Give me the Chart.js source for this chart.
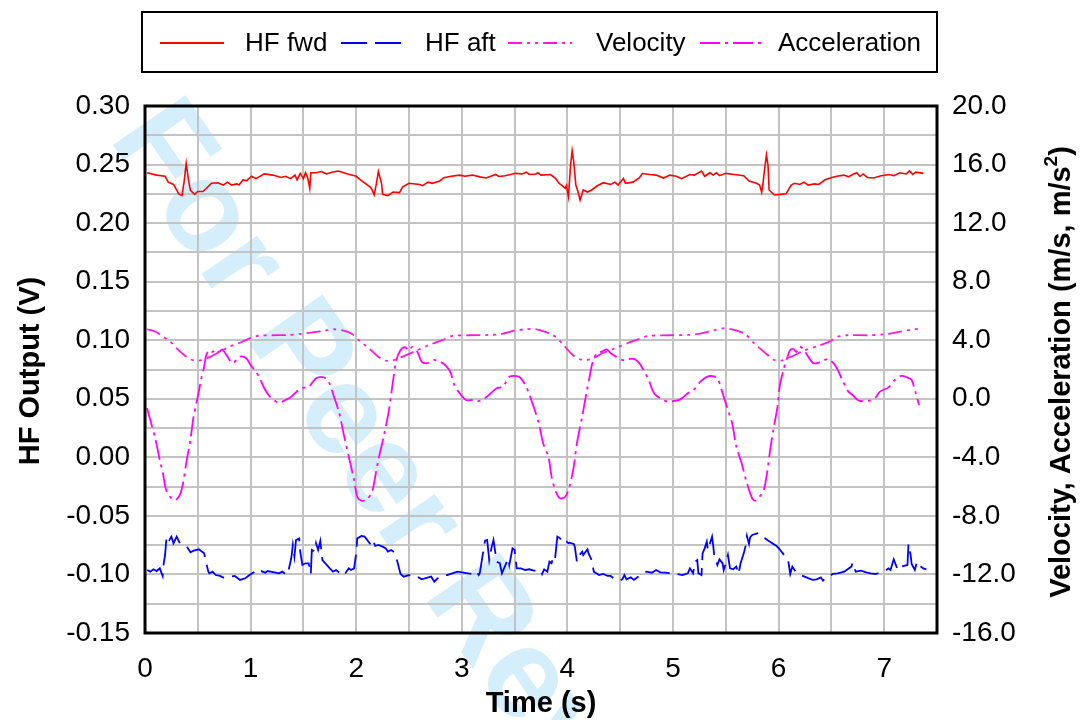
<!DOCTYPE html>
<html>
<head>
<meta charset="utf-8">
<script src="https://cdn.jsdelivr.net/npm/chart.js@4.4.1/dist/chart.umd.min.js"></script>
<style>
  body { margin: 0; background: #fff; }
  canvas { display: block; background: #fff; }
</style>
</head>
<body>
<canvas id="chart" width="1080" height="720"></canvas>
<script>
// HF fwd (left axis, V)
const fwdT = [0.02,0.11,0.19,0.22,0.27,0.32,0.35,0.37,0.39,0.41,0.43,0.47,0.50,0.55,0.63,0.69,0.74,0.78,0.82,0.87,0.89,0.93,0.96,1.01,1.05,1.13,1.21,1.29,1.33,1.38,1.42,1.44,1.47,1.50,1.52,1.54,1.56,1.57,1.62,1.67,1.72,1.77,1.83,1.92,2.00,2.04,2.13,2.15,2.17,2.19,2.21,2.24,2.25,2.30,2.35,2.41,2.44,2.50,2.60,2.63,2.68,2.72,2.79,2.83,2.90,2.98,3.03,3.10,3.17,3.23,3.32,3.35,3.41,3.51,3.57,3.61,3.64,3.70,
  3.72,3.75,3.84,3.89,3.92,3.95,3.98,3.99,4.01,4.03,4.045,4.06,4.08,4.10,4.12,4.15,4.19,4.23,4.28,4.34,4.41,4.45,4.48,4.53,4.55,4.62,4.68,4.71,4.78,4.84,4.91,4.97,5.03,5.08,5.16,5.20,5.27,5.30,5.35,5.38,5.41,5.44,5.50,5.58,5.67,5.72,5.79,5.82,5.84,5.85,5.87,5.885,5.90,5.91,5.96,6.02,6.07,6.12,6.15,6.20,6.24,6.28,6.34,6.38,6.44,6.49,6.55,6.62,6.66,6.70,6.74,6.77,6.80,6.84,6.90,6.97,7.05,7.09,7.15,7.21,7.24,7.27,7.30,7.37];
const fwdV = [0.243,0.241,0.240,0.235,0.233,0.225,0.2235,0.235,0.251,0.238,0.228,0.2246,0.227,0.227,0.234,0.2345,0.2325,0.235,0.2325,0.2335,0.2325,0.237,0.236,0.240,0.238,0.242,0.241,0.239,0.240,0.238,0.241,0.237,0.2425,0.238,0.243,0.239,0.2297,0.243,0.243,0.244,0.242,0.2435,0.2445,0.242,0.240,0.237,0.231,0.2285,0.224,0.233,0.244,0.234,0.2246,0.2235,0.2265,0.226,0.231,0.234,0.233,0.232,0.235,0.234,0.236,0.2388,0.240,0.241,0.240,0.241,0.2395,0.2385,0.2415,0.2398,0.2405,0.2425,0.242,0.2435,0.2415,0.242,
  0.243,0.241,0.2415,0.238,0.234,0.232,0.2297,0.232,0.2226,0.2496,0.2618,0.2524,0.2325,0.227,0.2197,0.2283,0.2265,0.2283,0.2317,0.2345,0.233,0.235,0.2325,0.238,0.234,0.235,0.2385,0.2423,0.2415,0.241,0.2385,0.241,0.240,0.238,0.2415,0.241,0.2445,0.240,0.243,0.241,0.243,0.2405,0.2425,0.2415,0.2405,0.236,0.234,0.2325,0.2264,0.2325,0.248,0.2582,0.249,0.2283,0.224,0.2245,0.225,0.2325,0.234,0.233,0.235,0.2325,0.2335,0.233,0.237,0.2385,0.240,0.241,0.2395,0.2415,0.243,0.2398,0.242,0.239,0.2385,0.2405,0.2415,0.2405,0.243,0.242,0.2445,0.2415,0.2435,0.2425];

// HF aft (left axis, V)
const aftT = [0.02,0.05,0.08,0.11,0.14,0.167,0.173,0.19,0.205,0.23,0.25,0.27,0.30,0.33,0.37,0.40,0.43,0.46,0.51,0.56,0.58,0.60,0.61,0.64,0.67,0.71,0.74,0.85,0.90,0.95,0.99,1.04,1.07,1.10,1.14,1.16,1.27,1.30,1.34,1.36,1.385,1.40,1.415,1.43,1.46,1.47,1.49,1.52,1.55,1.57,1.58,1.61,1.62,1.64,1.66,1.68,1.75,1.78,1.81,1.84,1.87,1.90,1.93,1.95,1.98,2.00,2.01,2.05,2.08,2.14,2.16,2.18,2.21,2.25,2.28,2.30,2.33,2.36,2.39,2.42,2.45,2.50,2.54,2.59,2.62,2.71,2.74,2.77,2.82,2.86,2.91,2.96,3.00,3.10,3.14,3.16,3.17,3.19,3.20,3.22,3.24,3.26,3.28,3.30,3.33,3.36,3.38,3.42,3.44,3.45,3.48,3.50,3.52,3.56,3.60,3.64,3.68,
  3.75,3.76,3.78,3.81,3.83,3.85,3.86,3.88,3.895,3.905,3.93,3.95,3.96,3.99,4.01,4.02,4.06,4.07,4.09,4.10,4.14,4.15,4.19,4.20,4.23,4.25,4.30,4.34,4.38,4.41,4.45,4.49,4.52,4.54,4.56,4.60,4.63,4.67,4.72,4.75,4.80,4.84,4.88,4.93,5.04,5.09,5.14,5.16,5.19,5.21,5.23,5.24,5.27,5.28,5.30,5.32,5.33,5.35,5.37,5.38,5.39,5.42,5.44,5.47,5.48,5.50,5.52,5.54,5.57,5.60,5.62,5.64,5.67,5.69,5.70,5.72,5.73,5.75,5.80,5.83,5.87,5.90,5.94,5.98,6.01,6.04,6.09,6.11,6.13,6.16,6.21,6.32,6.36,6.40,6.42,6.45,6.48,6.51,6.56,6.62,6.69,6.70,6.73,6.78,6.83,6.87,6.92,7.01,7.04,7.06,7.09,7.11,7.13,7.16,7.22,7.23,7.25,7.26,7.29,7.31,7.34,7.37,7.40];
const aftV = [-0.0962,-0.0976,-0.0956,-0.0971,-0.0948,-0.1013,-0.0933,-0.0834,-0.0672,-0.0706,-0.0677,-0.0734,-0.0677,-0.0734,-0.0748,-0.0768,-0.0811,-0.0797,-0.0785,-0.0820,-0.0905,-0.0976,-0.0990,-0.0976,-0.1005,-0.1013,-0.1027,-0.1013,-0.1047,-0.1033,-0.1005,-0.0976,-0.0990,-0.0971,-0.0985,-0.0971,-0.0990,-0.0976,-0.1005,-0.0962,-0.0862,-0.0748,-0.0848,-0.0706,-0.0692,-0.0805,-0.0919,-0.0905,-0.0905,-0.0996,-0.0791,-0.0805,-0.0734,-0.0791,-0.0714,-0.0877,-0.0948,-0.0976,-0.0962,-0.0985,-0.0962,-0.0985,-0.0948,-0.0962,-0.0948,-0.0820,-0.0692,-0.0672,-0.0677,-0.0748,-0.0711,-0.0757,-0.0748,-0.0763,-0.0777,-0.0805,-0.0791,-0.0811,-0.0891,-0.0996,-0.1019,-0.1005,-0.1025,-0.1025,-0.1042,-0.1019,-0.1062,-0.1033,-0.1019,-0.1005,-0.0990,-0.0976,-0.0982,-0.0996,-0.0976,-0.1005,-0.0990,-0.0877,-0.0820,-0.0711,-0.0706,-0.0877,-0.0777,-0.0706,-0.0891,-0.0905,-0.0990,-0.0905,-0.0862,-0.0919,-0.0777,-0.0791,-0.0948,-0.0948,-0.0962,-0.0956,-0.0968,
  -0.0968,-0.0996,-0.0956,-0.0976,-0.0891,-0.0905,-0.0871,-0.0891,-0.0763,-0.0677,-0.0692,-0.0711,-0.0734,-0.0720,-0.0734,-0.0729,-0.0740,-0.0763,-0.0891,-0.0854,-0.0805,-0.0834,-0.0785,-0.0820,-0.0877,-0.0976,-0.1005,-0.0996,-0.1013,-0.1013,-0.1042,-0.1053,-0.1042,-0.1005,-0.1042,-0.1025,-0.1047,-0.1019,-0.0990,-0.0976,-0.0985,-0.0962,-0.0982,-0.0985,-0.0996,-0.1005,-0.0990,-0.0948,-0.0990,-0.0891,-0.0877,-0.0990,-0.1005,-0.0820,-0.0777,-0.0720,-0.0791,-0.0734,-0.0677,-0.0748,-0.0834,-0.0919,-0.0871,-0.0905,-0.0962,-0.0905,-0.0834,-0.0948,-0.0956,-0.0933,-0.0996,-0.0905,-0.0820,-0.0748,-0.0672,-0.0740,-0.0683,-0.0663,-0.0649,-0.0677,-0.0692,-0.0711,-0.0734,-0.0757,-0.0785,-0.0820,-0.0877,-0.0996,-0.0933,-0.0976,-0.1005,-0.1047,-0.1042,-0.1025,-0.1053,-0.1025,-0.1019,-0.0996,-0.0990,-0.0976,-0.0933,-0.0899,-0.0976,-0.0968,-0.0982,-0.0990,-0.0996,-0.0968,-0.0948,-0.0962,-0.0871,-0.0919,-0.0962,-0.0933,-0.0919,-0.0740,-0.0834,-0.0911,-0.0962,-0.0891,-0.0928,-0.0948,-0.0956];

// Velocity (right axis, m/s)
const velT = [0.02,0.10,0.17,0.24,0.30,0.37,0.43,0.48,0.54,0.62,0.71,0.80,0.90,0.99,1.08,1.20,1.36,1.47,1.57,1.70,1.79,1.88,1.96,2.03,2.12,2.20,2.28,2.36,2.44,2.57,2.69,2.82,2.91,3.07,3.25,3.38,3.50,3.60,3.68,3.73,3.86,3.95,4.05,4.14,4.23,4.33,4.45,4.58,4.67,4.77,4.96,5.15,5.27,5.40,5.49,5.58,5.68,5.77,5.87,5.96,6.02,6.12,6.24,6.37,6.48,6.56,6.65,6.87,7.03,7.15,7.28,7.36];
const velV = [4.75,4.58,4.24,3.9,3.45,2.99,2.7,2.6,2.65,2.88,3.22,3.56,3.83,4.13,4.31,4.34,4.36,4.43,4.52,4.65,4.75,4.65,4.43,3.97,3.45,2.92,2.6,2.65,2.88,3.29,3.67,4.02,4.29,4.34,4.36,4.43,4.65,4.75,4.78,4.7,4.36,3.79,2.99,2.65,2.72,3.11,3.45,3.83,4.06,4.29,4.34,4.36,4.47,4.7,4.82,4.7,4.43,3.79,3.15,2.65,2.6,2.88,3.29,3.6,3.9,4.24,4.34,4.34,4.43,4.58,4.75,4.75];

// Acceleration (right axis, m/s^2)
const accT = [0.02,0.05,0.10,0.14,0.17,0.20,0.25,0.29,0.33,0.36,0.39,0.43,0.46,0.50,0.53,0.56,0.58,0.61,0.64,0.67,0.70,0.73,0.76,0.79,0.83,0.90,0.96,1.00,1.05,1.08,1.13,1.17,1.22,1.27,1.33,1.37,1.42,1.48,1.55,1.62,1.67,1.71,1.74,1.79,1.84,1.88,1.93,1.98,2.01,2.05,2.10,2.15,2.18,2.21,2.26,2.31,2.35,2.38,2.42,2.46,2.50,2.53,2.58,2.62,2.67,2.73,2.79,2.84,2.89,2.93,2.98,3.04,3.11,3.17,3.23,3.33,3.39,3.45,3.52,3.56,3.61,
  3.635,3.68,3.73,3.77,3.82,3.85,3.89,3.93,3.98,4.02,4.06,4.09,4.14,4.18,4.21,4.24,4.28,4.32,4.37,4.41,4.46,4.52,4.56,4.63,4.68,4.72,4.77,4.82,4.88,4.95,5.01,5.07,5.14,5.20,5.26,5.32,5.37,5.42,5.46,5.51,5.56,5.60,5.65,5.70,5.75,5.78,5.82,5.86,5.89,5.92,5.95,5.99,6.01,6.05,6.08,6.11,6.14,6.17,6.20,6.24,6.28,6.33,6.39,6.47,6.52,6.56,6.61,6.66,6.70,6.76,6.86,6.92,6.96,7.04,7.10,7.16,7.22,7.26,7.29,7.33];
const accV = [-0.65,-1.45,-2.81,-4.18,-5.09,-6.23,-6.8,-6.91,-6.57,-5.77,-4.41,-2.81,-1.22,0.14,1.28,2.19,2.99,3.33,3.2,3.38,3.2,3.38,3.11,2.77,2.43,2.88,2.75,2.31,1.85,1.5,0.72,0.26,-0.08,-0.27,-0.08,0.05,0.38,0.72,0.83,1.4,1.5,1.4,1.17,0.14,-0.99,-2.36,-3.96,-5.55,-6.69,-6.96,-6.88,-6.35,-5.32,-4.18,-2.59,-0.77,1.28,2.65,3.33,3.52,3.3,3.55,3.2,2.54,2.43,2.65,2.55,2.31,1.85,0.94,0.38,-0.08,-0.08,-0.15,0.1,0.72,0.83,1.5,1.55,1.4,0.83,
  0.38,-0.54,-1.68,-3.04,-3.96,-5.32,-6.35,-6.8,-6.69,-6.0,-4.63,-3.04,-1.22,0.38,1.5,2.54,3.11,3.2,3.38,3.11,2.88,2.65,2.7,2.72,2.43,1.97,1.28,0.38,0.03,-0.2,-0.15,-0.04,0.38,0.65,1.17,1.5,1.55,1.4,0.6,-0.54,-1.68,-3.27,-4.41,-5.77,-6.8,-6.96,-6.69,-6.23,-5.09,-3.5,-2.13,-0.54,0.83,2.08,2.77,3.33,3.4,3.2,3.56,3.33,2.88,2.43,2.5,2.72,2.43,1.97,1.17,0.49,0.26,-0.13,-0.13,0.1,0.49,0.78,1.28,1.56,1.45,1.28,0.6,-0.42];

const seriesNames = ["HF fwd", "HF aft", "Velocity", "Acceleration"];
const seriesColors = ["#ff0000", "#0000ff", "#ff1ad9", "#ff00ff"];
const seriesDash = [[], [26, 8], [14, 5, 3, 5, 3, 5], [20, 5, 3, 5]];

function toPoints(ts, vs) {
  return ts.map((t, i) => ({ x: t, y: vs[i] }));
}

const FONT = '"Liberation Sans", Arial, sans-serif';

// light blue diagonal watermark behind everything
const watermark = {
  id: "watermark",
  beforeDraw(chart) {
    const c = chart.ctx;
    c.save();
    c.translate(108, 138);
    c.rotate(55.5 * Math.PI / 180);
    c.font = "bold 128px " + FONT;
    c.fillStyle = "#d5eefb";
    c.textBaseline = "alphabetic";
    c.fillText("For Peer Review", 0, 0);
    c.restore();
  }
};

const frameAndText = {
  id: "frameAndText",
  afterDatasetsDraw(chart) {
    const a = chart.chartArea;
    const c = chart.ctx;
    c.save();
    c.strokeStyle = "#000";
    c.lineWidth = 3;
    c.strokeRect(a.left, a.top, a.right - a.left, a.bottom - a.top);
    c.restore();
  },
  afterDraw(chart) {
    const c = chart.ctx;
    c.save();
    c.fillStyle = "#000";

    // legend box
    c.strokeStyle = "#000";
    c.lineWidth = 2;
    c.strokeRect(142, 12, 795, 60);
    const lineX = [160, 341, 508, 700];
    const textX = [245, 425, 596, 778];
    c.font = "26px " + FONT;
    c.textBaseline = "middle";
    c.textAlign = "left";
    for (let i = 0; i < seriesNames.length; i++) {
      c.strokeStyle = seriesColors[i];
      c.lineWidth = 1.8;
      c.setLineDash(seriesDash[i]);
      c.beginPath();
      c.moveTo(lineX[i], 43);
      c.lineTo(lineX[i] + 64, 43);
      c.stroke();
      c.setLineDash([]);
      c.fillText(seriesNames[i], textX[i], 44);
    }

    // axis titles
    c.font = "bold 29px " + FONT;
    c.textAlign = "center";
    c.fillText("Time (s)", 541, 704);

    c.save();
    c.translate(31, 371);
    c.rotate(-Math.PI / 2);
    c.fillText("HF Output (V)", 0, 0);
    c.restore();

    c.save();
    c.translate(1062, 372);
    c.rotate(-Math.PI / 2);
    const part1 = "Velocity, Acceleration (m/s, m/s";
    const part3 = ")";
    c.font = "bold 29px " + FONT;
    const w1 = c.measureText(part1).width;
    const w3 = c.measureText(part3).width;
    c.font = "bold 19px " + FONT;
    const w2 = c.measureText("2").width;
    let x0 = -(w1 + w2 + w3) / 2;
    c.textAlign = "left";
    c.font = "bold 29px " + FONT;
    c.fillText(part1, x0, 0);
    c.font = "bold 19px " + FONT;
    c.fillText("2", x0 + w1, -10);
    c.font = "bold 29px " + FONT;
    c.fillText(part3, x0 + w1 + w2, 0);
    c.restore();

    c.restore();
  }
};

const gridColor = "#c3c3c3";

new Chart(document.getElementById("chart"), {
  type: "line",
  data: {
    datasets: [
      { label: seriesNames[0], data: toPoints(fwdT, fwdV), yAxisID: "y", borderColor: seriesColors[0], borderWidth: 1.6, borderDash: seriesDash[0], pointRadius: 0, tension: 0 },
      { label: seriesNames[1], data: toPoints(aftT, aftV), yAxisID: "y", borderColor: seriesColors[1], borderWidth: 1.8, borderDash: seriesDash[1], pointRadius: 0, tension: 0 },
      { label: seriesNames[2], data: toPoints(velT, velV), yAxisID: "y2", borderColor: seriesColors[2], borderWidth: 1.8, borderDash: seriesDash[2], pointRadius: 0, tension: 0.3 },
      { label: seriesNames[3], data: toPoints(accT, accV), yAxisID: "y2", borderColor: seriesColors[3], borderWidth: 1.8, borderDash: seriesDash[3], pointRadius: 0, tension: 0.3 }
    ]
  },
  options: {
    responsive: false,
    animation: false,
    layout: { padding: { top: 106, left: 0, right: 0, bottom: 0 } },
    plugins: { legend: { display: false }, tooltip: { enabled: false } },
    scales: {
      x: {
        type: "linear", min: 0, max: 7.5,
        afterFit(s) { s.height = 87; },
        border: { display: false },
        grid: { color: gridColor, lineWidth: 2, drawTicks: false },
        ticks: {
          stepSize: 0.5, autoSkip: false, maxRotation: 0, padding: 19,
          color: "#000", font: { family: FONT, size: 28 },
          callback: v => Math.abs(v - Math.round(v)) < 1e-6 ? String(Math.round(v)) : ""
        }
      },
      y: {
        position: "left", min: -0.15, max: 0.30,
        afterFit(s) { s.width = 145; },
        border: { display: false },
        grid: { color: gridColor, lineWidth: 2, drawTicks: false },
        ticks: {
          stepSize: 0.025, autoSkip: false, padding: 15,
          color: "#000", font: { family: FONT, size: 28 },
          callback: v => {
            const m = Math.round(v * 1000);
            if (m % 50 !== 0) return "";
            return m === 0 ? "0.00" : (m / 1000).toFixed(2);
          }
        }
      },
      y2: {
        position: "right", min: -16, max: 20,
        afterFit(s) { s.width = 143; },
        border: { display: false },
        grid: { display: false, drawTicks: false },
        ticks: {
          stepSize: 2, autoSkip: false, padding: 15,
          color: "#000", font: { family: FONT, size: 28 },
          callback: v => Math.round(v) % 4 === 0 ? v.toFixed(1) : ""
        }
      }
    }
  },
  plugins: [watermark, frameAndText]
});
</script>
</body>
</html>
